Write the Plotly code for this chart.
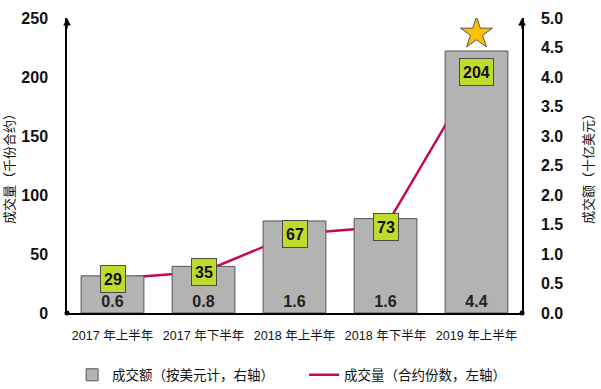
import plotly.graph_objects as go

categories = ["2017 年上半年", "2017 年下半年", "2018 年上半年", "2018 年下半年", "2019 年上半年"]
amount_bn = [0.63, 0.79, 1.56, 1.60, 4.44]          # 成交额 (十亿美元, right axis)
amount_labels = ["0.6", "0.8", "1.6", "1.6", "4.4"]
volume_k = [29, 35, 67, 73, 204]                     # 成交量 (千份合约, left axis)
left_ticks = [0, 50, 100, 150, 200, 250]
right_ticks = [0.0, 0.5, 1.0, 1.5, 2.0, 2.5, 3.0, 3.5, 4.0, 4.5, 5.0]

FONT = "Liberation Sans, Noto Sans CJK SC, sans-serif"
BAR_COLOR = "#B3B3B3"
LINE_COLOR = "#C8075A"
LABEL_BG = "#BFDB2E"

fig = go.Figure()

fig.add_trace(go.Bar(
    x=categories, y=amount_bn, yaxis="y2",
    name="成交额（按美元计，右轴）", legend="legend",
    marker=dict(color=BAR_COLOR, line=dict(color="#555555", width=1)),
    text=amount_labels, textposition="inside", insidetextanchor="start",
    textfont=dict(family=FONT, size=16, color="#222222", weight="bold"),
    textangle=0,
))

fig.add_trace(go.Scatter(
    x=categories, y=volume_k, yaxis="y",
    name="成交量（合约份数，左轴）", legend="legend2",
    mode="lines", line=dict(color=LINE_COLOR, width=2.5),
))

# star above the last bar
fig.add_trace(go.Scatter(
    x=[categories[-1]], y=[amount_bn[-1] + 0.3], yaxis="y2",
    mode="markers", showlegend=False,
    marker=dict(symbol="star", size=24, color="#FFC000", line=dict(color="#555555", width=1)),
    hoverinfo="skip",
))

annotations = []
for c, v in zip(categories, volume_k):
    annotations.append(dict(
        x=c, y=v, xref="x", yref="y", text=f"<b>{v}</b>", showarrow=False,
        font=dict(family=FONT, size=16, color="#111111"),
        bgcolor=LABEL_BG, bordercolor="#4A4A4A", borderwidth=1, borderpad=3,
        height=20,
    ))

# axis arrows
for xpos in (0, 1):
    annotations.append(dict(
        x=xpos, y=1.0, xref="paper", yref="paper", ax=0, ay=12,
        axref="pixel", ayref="pixel", showarrow=True, arrowhead=2,
        arrowsize=1, arrowwidth=1.5, arrowcolor="#000000", text="",
    ))

shapes = []
for xpos in (0, 1):
    shapes.append(dict(type="circle", xref="paper", yref="paper",
                       x0=-2.5, y0=-2.5, x1=2.5, y1=2.5,
                       xsizemode="pixel", ysizemode="pixel",
                       xanchor=xpos, yanchor=0,
                       line=dict(color="#000000", width=0), fillcolor="#000000"))

legend_common = dict(orientation="h", xref="container", yref="container",
                     xanchor="left", y=0.036, yanchor="middle",
                     font=dict(family=FONT, size=13.5, color="#111111"),
                     itemwidth=30, bgcolor="rgba(0,0,0,0)")

fig.update_layout(
    width=601, height=389,
    margin=dict(l=67, r=79, t=18, b=76, autoexpand=False),
    paper_bgcolor="white", plot_bgcolor="white",
    font=dict(family=FONT, size=12, color="#111111"),
    bargap=0.31,
    showlegend=True,
    legend=dict(x=0.12, **legend_common),
    legend2=dict(x=0.506, **legend_common),
    xaxis=dict(showline=True, linecolor="#000000", linewidth=1.5, ticks="",
               automargin=False, ticklabelstandoff=10,
               tickfont=dict(family=FONT, size=12.5, color="#111111"), showgrid=False),
    yaxis=dict(range=[0, 250], tickvals=left_ticks, showline=True, linecolor="#000000",
               linewidth=1.5, showgrid=False, zeroline=False, ticks="", automargin=False,
               tickfont=dict(family=FONT, size=16, color="#111111", weight="bold"),
               ticklabelstandoff=14,
               title=dict(text="成交量（千份合约）", standoff=4,
                          font=dict(family=FONT, size=13, color="#111111"))),
    yaxis2=dict(range=[0, 5], tickvals=right_ticks, tickformat=".1f", overlaying="y",
                side="right", showline=True, linecolor="#000000", linewidth=1.5,
                showgrid=False, zeroline=False, ticks="", automargin=False,
                tickfont=dict(family=FONT, size=16, color="#111111", weight="bold"),
                ticklabelstandoff=14,
                title=dict(text="成交额（十亿美元）", standoff=22,
                           font=dict(family=FONT, size=13, color="#111111"))),
    annotations=annotations,
    shapes=shapes,
)

fig.write_html("out.html", config={"displayModeBar": False},
               post_script="document.body.style.margin='0';")
